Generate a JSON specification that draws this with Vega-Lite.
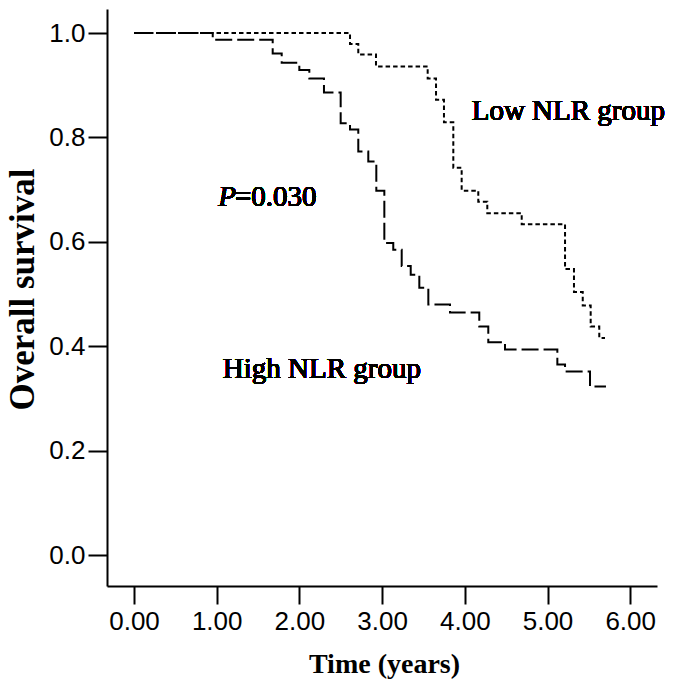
{
  "$schema": "https://vega.github.io/schema/vega-lite/v6.json",
  "autosize": {"type": "none"},
  "padding": {"left": 107, "top": 9, "right": 27, "bottom": 94},
  "width": 550,
  "height": 577,
  "background": "white",
  "config": {"view": {"stroke": null}},
  "data": {"values": [
    {"t": 0, "s": 1.0, "group": "High NLR group"},
    {"t": 0.952, "s": 0.987, "group": "High NLR group"},
    {"t": 1.677, "s": 0.961, "group": "High NLR group"},
    {"t": 1.786, "s": 0.943, "group": "High NLR group"},
    {"t": 1.999, "s": 0.929, "group": "High NLR group"},
    {"t": 2.120, "s": 0.913, "group": "High NLR group"},
    {"t": 2.297, "s": 0.886, "group": "High NLR group"},
    {"t": 2.499, "s": 0.827, "group": "High NLR group"},
    {"t": 2.612, "s": 0.815, "group": "High NLR group"},
    {"t": 2.712, "s": 0.773, "group": "High NLR group"},
    {"t": 2.833, "s": 0.754, "group": "High NLR group"},
    {"t": 2.930, "s": 0.698, "group": "High NLR group"},
    {"t": 3.027, "s": 0.598, "group": "High NLR group"},
    {"t": 3.135, "s": 0.585, "group": "High NLR group"},
    {"t": 3.237, "s": 0.554, "group": "High NLR group"},
    {"t": 3.346, "s": 0.537, "group": "High NLR group"},
    {"t": 3.450, "s": 0.512, "group": "High NLR group"},
    {"t": 3.559, "s": 0.480, "group": "High NLR group"},
    {"t": 3.821, "s": 0.465, "group": "High NLR group"},
    {"t": 4.175, "s": 0.438, "group": "High NLR group"},
    {"t": 4.284, "s": 0.408, "group": "High NLR group"},
    {"t": 4.486, "s": 0.394, "group": "High NLR group"},
    {"t": 5.119, "s": 0.365, "group": "High NLR group"},
    {"t": 5.212, "s": 0.352, "group": "High NLR group"},
    {"t": 5.514, "s": 0.323, "group": "High NLR group"},
    {"t": 5.707, "s": 0.323, "group": "High NLR group"},
    {"t": 0, "s": 1.0, "group": "Low NLR group"},
    {"t": 2.612, "s": 0.979, "group": "Low NLR group"},
    {"t": 2.712, "s": 0.959, "group": "Low NLR group"},
    {"t": 2.926, "s": 0.936, "group": "Low NLR group"},
    {"t": 3.551, "s": 0.913, "group": "Low NLR group"},
    {"t": 3.652, "s": 0.872, "group": "Low NLR group"},
    {"t": 3.748, "s": 0.829, "group": "Low NLR group"},
    {"t": 3.861, "s": 0.742, "group": "Low NLR group"},
    {"t": 3.962, "s": 0.698, "group": "Low NLR group"},
    {"t": 4.163, "s": 0.677, "group": "Low NLR group"},
    {"t": 4.272, "s": 0.655, "group": "Low NLR group"},
    {"t": 4.688, "s": 0.634, "group": "Low NLR group"},
    {"t": 5.212, "s": 0.548, "group": "Low NLR group"},
    {"t": 5.320, "s": 0.504, "group": "Low NLR group"},
    {"t": 5.426, "s": 0.478, "group": "Low NLR group"},
    {"t": 5.522, "s": 0.438, "group": "Low NLR group"},
    {"t": 5.626, "s": 0.416, "group": "Low NLR group"},
    {"t": 5.695, "s": 0.416, "group": "Low NLR group"}
  ]},
  "layer": [
    {
      "mark": {"type": "line", "interpolate": "step-after", "color": "black", "strokeWidth": 2},
      "encoding": {
        "x": {"field": "t", "type": "quantitative",
          "scale": {"domain": [-0.3265, 6.324], "nice": false, "zero": false},
          "axis": {
            "values": [0, 1, 2, 3, 4, 5, 6], "format": ".2f", "grid": false,
            "labelFont": "Liberation Sans", "labelFontSize": 26, "labelColor": "black",
            "labelPadding": 4, "labelFlush": false, "labelOverlap": false,
            "tickSize": 18, "tickWidth": 2, "tickColor": "black",
            "domainColor": "black", "domainWidth": 2,
            "title": "Time (years)", "titleFont": "Liberation Serif", "titleFontWeight": "bold",
            "titleFontSize": 28, "titleColor": "black",
            "titleX": 277, "titleY": 86, "titleAlign": "center", "titleBaseline": "alphabetic"
          }},
        "y": {"field": "s", "type": "quantitative",
          "scale": {"domain": [-0.059, 1.046], "nice": false, "zero": false},
          "axis": {
            "values": [0, 0.2, 0.4, 0.6, 0.8, 1.0], "format": ".1f", "grid": false,
            "labelFont": "Liberation Sans", "labelFontSize": 26, "labelColor": "black",
            "labelPadding": 3, "labelFlush": false, "labelOverlap": false,
            "tickSize": 19, "tickWidth": 2, "tickColor": "black",
            "domainColor": "black", "domainWidth": 2,
            "title": "Overall survival", "titleFont": "Liberation Serif", "titleFontWeight": "bold",
            "titleFontSize": 35, "titleColor": "black", "titleAngle": 270,
            "titleX": -74, "titleY": 280, "titleAlign": "center", "titleBaseline": "alphabetic"
          }},
        "detail": {"field": "group"},
        "strokeDash": {"field": "group", "type": "nominal",
          "scale": {"domain": ["High NLR group", "Low NLR group"], "range": [[17, 5], [4.5, 3]]},
          "legend": null}
      }
    },
    {
      "mark": {"type": "text", "text": "Low NLR group", "font": "Liberation Serif", "fontWeight": "normal", "fontSize": 29, "align": "left", "baseline": "alphabetic", "color": "black"},
      "encoding": {"x": {"datum": 4.083}, "y": {"datum": 0.834}}
    },
    {
      "mark": {"type": "text", "text": "P", "font": "Liberation Serif", "fontWeight": "normal", "fontStyle": "italic", "fontSize": 29, "align": "left", "baseline": "alphabetic", "color": "black"},
      "encoding": {"x": {"datum": 1.019}, "y": {"datum": 0.669}}
    },
    {
      "mark": {"type": "text", "text": "=0.030", "font": "Liberation Serif", "fontWeight": "normal", "fontSize": 29, "align": "left", "baseline": "alphabetic", "color": "black"},
      "encoding": {"x": {"datum": 1.221}, "y": {"datum": 0.669}}
    },
    {
      "mark": {"type": "text", "text": "High NLR group", "font": "Liberation Serif", "fontWeight": "normal", "fontSize": 29, "align": "left", "baseline": "alphabetic", "color": "black"},
      "encoding": {"x": {"datum": 1.073}, "y": {"datum": 0.34}}
    }
  ]
}
